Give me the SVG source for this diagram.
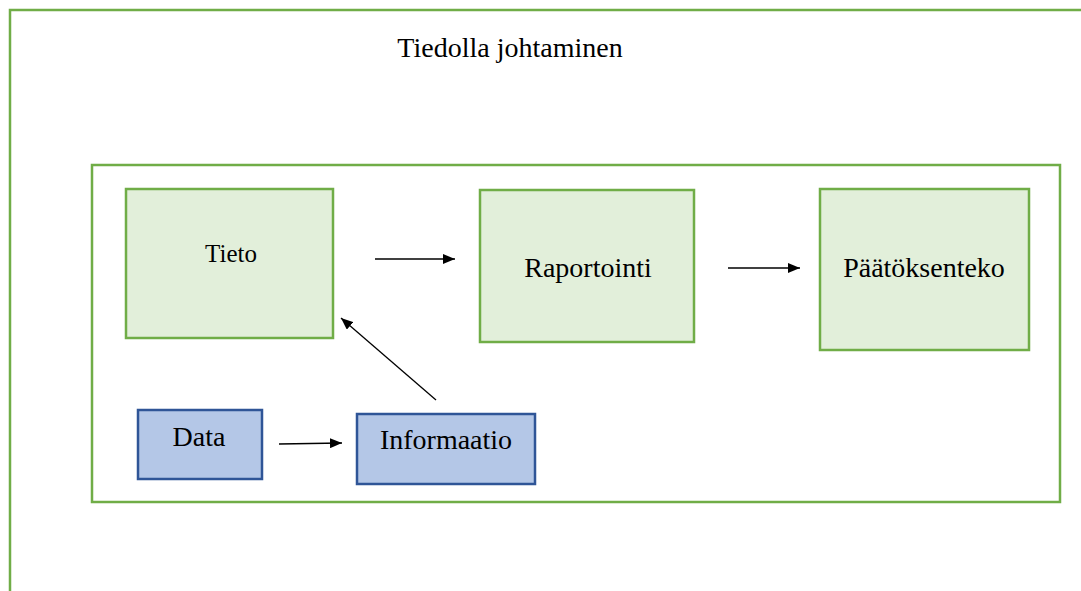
<svg xmlns="http://www.w3.org/2000/svg" width="1081" height="591" viewBox="0 0 1081 591">
<defs>
<style>
.frame{fill:none;stroke:#70AD47;stroke-width:2.5}
.g{fill:#E2EFDA;stroke:#70AD47;stroke-width:2.5}
.b{fill:#B4C7E7;stroke:#2F5597;stroke-width:2.5}
.t{font-family:"Liberation Serif","Times New Roman",serif;fill:#000;text-anchor:middle}
.c{stroke:#000;stroke-width:1.3;fill:none;marker-end:url(#ah)}
</style>
<marker id="ah" viewBox="0 0 12 10" refX="12" refY="5" markerWidth="12" markerHeight="10" markerUnits="userSpaceOnUse" orient="auto">
<path d="M0,0 L12,5 L0,10 z" fill="#000"/>
</marker>
</defs>
<rect width="1081" height="591" fill="#fff"/>
<g id="outer">
<rect class="frame" x="10" y="10" width="1100" height="620"/>
<text class="t" x="510" y="57" font-size="28">Tiedolla johtaminen</text>
</g>
<g id="inner">
<rect class="frame" x="92" y="165" width="968" height="337"/>
</g>
<g id="tieto">
<rect class="g" x="126" y="189" width="207" height="149"/>
<text class="t" x="231" y="262" font-size="25">Tieto</text>
</g>
<g id="raportointi">
<rect class="g" x="480" y="190" width="214" height="152"/>
<text class="t" x="588" y="277" font-size="28">Raportointi</text>
</g>
<g id="paatoksenteko">
<rect class="g" x="820" y="189" width="209" height="161"/>
<text class="t" x="924" y="277" font-size="28">Päätöksenteko</text>
</g>
<g id="data">
<rect class="b" x="138" y="410" width="124" height="69"/>
<text class="t" x="199" y="446" font-size="28">Data</text>
</g>
<g id="informaatio">
<rect class="b" x="357" y="414" width="178" height="70"/>
<text class="t" x="446" y="449" font-size="28">Informaatio</text>
</g>
<g id="connectors">
<line class="c" x1="375" y1="259" x2="455" y2="259"/>
<line class="c" x1="728" y1="268" x2="800" y2="268"/>
<line class="c" x1="279" y1="444" x2="342" y2="443"/>
<line class="c" x1="436" y1="400" x2="341" y2="318"/>
</g>
</svg>
